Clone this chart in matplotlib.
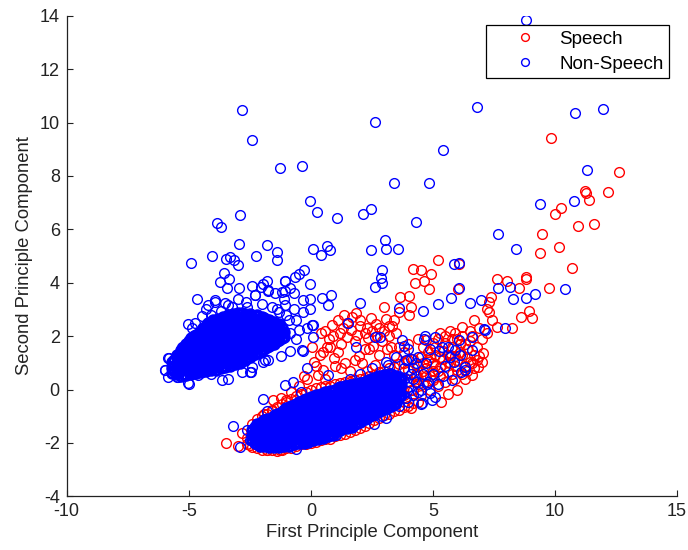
import matplotlib
matplotlib.use("Agg")
import matplotlib.pyplot as plt

# ---------------- data ----------------
# Non-Speech (blue), upper-left dense cluster: (x, [y values at that x])
nonspeech_left_core_cols = [
    (-5.70, [0.62, 0.82, 1.02]),
    (-5.60, [0.70, 0.90, 1.10]),
    (-5.50, [0.58, 0.78, 0.98, 1.18, 1.30]),
    (-5.40, [0.66, 0.86, 1.06, 1.26]),
    (-5.30, [0.52, 0.72, 0.92, 1.12, 1.32, 1.48]),
    (-5.20, [0.60, 0.80, 1.00, 1.20, 1.40, 1.58]),
    (-5.10, [0.55, 0.75, 0.95, 1.15, 1.35, 1.55, 1.70]),
    (-5.00, [0.64, 0.84, 1.04, 1.24, 1.44, 1.64, 1.80]),
    (-4.90, [0.60, 0.80, 1.00, 1.20, 1.40, 1.60, 1.80, 1.92]),
    (-4.80, [0.68, 0.88, 1.08, 1.28, 1.48, 1.68, 1.88, 2.00]),
    (-4.70, [0.62, 0.82, 1.02, 1.22, 1.42, 1.62, 1.82, 2.04]),
    (-4.60, [0.70, 0.90, 1.10, 1.30, 1.50, 1.70, 1.90, 2.12]),
    (-4.50, [0.65, 0.85, 1.05, 1.25, 1.45, 1.65, 1.85, 2.05, 2.20]),
    (-4.40, [0.74, 0.94, 1.14, 1.34, 1.54, 1.74, 1.94, 2.14, 2.30]),
    (-4.30, [0.68, 0.88, 1.08, 1.28, 1.48, 1.68, 1.88, 2.08, 2.28, 2.38]),
    (-4.20, [0.76, 0.96, 1.16, 1.36, 1.56, 1.76, 1.96, 2.16, 2.36, 2.48]),
    (-4.10, [0.72, 0.92, 1.12, 1.32, 1.52, 1.72, 1.92, 2.12, 2.32, 2.52]),
    (-4.00, [0.80, 1.00, 1.20, 1.40, 1.60, 1.80, 2.00, 2.20, 2.40, 2.60]),
    (-3.90, [0.75, 0.95, 1.15, 1.35, 1.55, 1.75, 1.95, 2.15, 2.35, 2.58]),
    (-3.80, [0.84, 1.04, 1.24, 1.44, 1.64, 1.84, 2.04, 2.24, 2.44, 2.66]),
    (-3.70, [0.80, 1.00, 1.20, 1.40, 1.60, 1.80, 2.00, 2.20, 2.40, 2.62]),
    (-3.60, [0.88, 1.08, 1.28, 1.48, 1.68, 1.88, 2.08, 2.28, 2.48, 2.72]),
    (-3.50, [0.85, 1.05, 1.25, 1.45, 1.65, 1.85, 2.05, 2.25, 2.45, 2.68]),
    (-3.40, [0.94, 1.14, 1.34, 1.54, 1.74, 1.94, 2.14, 2.34, 2.54, 2.78]),
    (-3.30, [0.90, 1.10, 1.30, 1.50, 1.70, 1.90, 2.10, 2.30, 2.50, 2.74]),
    (-3.20, [0.98, 1.18, 1.38, 1.58, 1.78, 1.98, 2.18, 2.38, 2.58, 2.82]),
    (-3.10, [0.95, 1.15, 1.35, 1.55, 1.75, 1.95, 2.15, 2.35, 2.55, 2.78]),
    (-3.00, [1.04, 1.24, 1.44, 1.64, 1.84, 2.04, 2.24, 2.44, 2.64, 2.86]),
    (-2.90, [1.00, 1.20, 1.40, 1.60, 1.80, 2.00, 2.20, 2.40, 2.60, 2.82]),
    (-2.80, [1.10, 1.30, 1.50, 1.70, 1.90, 2.10, 2.30, 2.50, 2.70, 2.88]),
    (-2.70, [1.12, 1.32, 1.52, 1.72, 1.92, 2.12, 2.32, 2.52, 2.72, 2.84]),
    (-2.60, [1.20, 1.40, 1.60, 1.80, 2.00, 2.20, 2.40, 2.60, 2.80]),
    (-2.50, [1.22, 1.42, 1.62, 1.82, 2.02, 2.22, 2.42, 2.62, 2.84]),
    (-2.40, [1.30, 1.50, 1.70, 1.90, 2.10, 2.30, 2.50, 2.70]),
    (-2.30, [1.32, 1.52, 1.72, 1.92, 2.12, 2.32, 2.52, 2.76]),
    (-2.20, [1.40, 1.60, 1.80, 2.00, 2.20, 2.40, 2.60, 2.78]),
    (-2.10, [1.42, 1.62, 1.82, 2.02, 2.22, 2.42, 2.64]),
    (-2.00, [1.50, 1.70, 1.90, 2.10, 2.30, 2.50, 2.70]),
    (-1.90, [1.52, 1.72, 1.92, 2.12, 2.32, 2.52, 2.68]),
    (-1.80, [1.60, 1.80, 2.00, 2.20, 2.40, 2.60]),
    (-1.70, [1.62, 1.82, 2.02, 2.22, 2.42, 2.62]),
    (-1.60, [1.70, 1.90, 2.10, 2.30, 2.50]),
    (-1.50, [1.72, 1.92, 2.12, 2.32, 2.52]),
    (-1.40, [1.80, 2.00, 2.20, 2.40]),
    (-1.30, [1.84, 2.04, 2.24, 2.44]),
    (-1.20, [1.92, 2.12, 2.32]),
    (-1.10, [1.96, 2.16]),
]

# Non-Speech, lower dense band: (x, [y values at that x])
nonspeech_low_core_cols = [
    (-2.40, [-1.90, -1.70, -1.50]),
    (-2.30, [-2.00, -1.80, -1.60, -1.40]),
    (-2.20, [-2.05, -1.85, -1.65, -1.45, -1.30]),
    (-2.10, [-2.10, -1.90, -1.70, -1.50, -1.30]),
    (-2.00, [-2.00, -1.80, -1.60, -1.40, -1.20]),
    (-1.90, [-2.10, -1.90, -1.70, -1.50, -1.30, -1.15]),
    (-1.80, [-2.05, -1.85, -1.65, -1.45, -1.25, -1.10]),
    (-1.70, [-2.15, -1.95, -1.75, -1.55, -1.35, -1.15]),
    (-1.60, [-2.05, -1.85, -1.65, -1.45, -1.25, -1.05]),
    (-1.50, [-2.15, -1.95, -1.75, -1.55, -1.35, -1.15, -0.98]),
    (-1.40, [-2.05, -1.85, -1.65, -1.45, -1.25, -1.05, -0.90]),
    (-1.30, [-2.15, -1.95, -1.75, -1.55, -1.35, -1.15, -0.95]),
    (-1.20, [-2.05, -1.85, -1.65, -1.45, -1.25, -1.05, -0.85]),
    (-1.10, [-2.10, -1.90, -1.70, -1.50, -1.30, -1.10, -0.90, -0.78]),
    (-1.00, [-2.00, -1.80, -1.60, -1.40, -1.20, -1.00, -0.80, -0.70]),
    (-0.90, [-2.10, -1.90, -1.70, -1.50, -1.30, -1.10, -0.90, -0.70]),
    (-0.80, [-2.00, -1.80, -1.60, -1.40, -1.20, -1.00, -0.80, -0.62]),
    (-0.70, [-2.05, -1.85, -1.65, -1.45, -1.25, -1.05, -0.85, -0.65]),
    (-0.60, [-1.95, -1.75, -1.55, -1.35, -1.15, -0.95, -0.75, -0.55]),
    (-0.50, [-2.00, -1.80, -1.60, -1.40, -1.20, -1.00, -0.80, -0.60, -0.48]),
    (-0.40, [-1.90, -1.70, -1.50, -1.30, -1.10, -0.90, -0.70, -0.50]),
    (-0.30, [-2.00, -1.80, -1.60, -1.40, -1.20, -1.00, -0.80, -0.60, -0.40]),
    (-0.20, [-1.90, -1.70, -1.50, -1.30, -1.10, -0.90, -0.70, -0.50, -0.35]),
    (-0.10, [-1.95, -1.75, -1.55, -1.35, -1.15, -0.95, -0.75, -0.55, -0.35]),
    (0.00, [-1.85, -1.65, -1.45, -1.25, -1.05, -0.85, -0.65, -0.45, -0.28]),
    (0.10, [-1.90, -1.70, -1.50, -1.30, -1.10, -0.90, -0.70, -0.50, -0.30]),
    (0.20, [-1.80, -1.60, -1.40, -1.20, -1.00, -0.80, -0.60, -0.40, -0.22]),
    (0.30, [-1.85, -1.65, -1.45, -1.25, -1.05, -0.85, -0.65, -0.45, -0.25]),
    (0.40, [-1.75, -1.55, -1.35, -1.15, -0.95, -0.75, -0.55, -0.35, -0.16]),
    (0.50, [-1.80, -1.60, -1.40, -1.20, -1.00, -0.80, -0.60, -0.40, -0.20]),
    (0.60, [-1.70, -1.50, -1.30, -1.10, -0.90, -0.70, -0.50, -0.30, -0.10]),
    (0.70, [-1.75, -1.55, -1.35, -1.15, -0.95, -0.75, -0.55, -0.35, -0.15]),
    (0.80, [-1.65, -1.45, -1.25, -1.05, -0.85, -0.65, -0.45, -0.25, -0.05]),
    (0.90, [-1.70, -1.50, -1.30, -1.10, -0.90, -0.70, -0.50, -0.30, -0.10]),
    (1.00, [-1.60, -1.40, -1.20, -1.00, -0.80, -0.60, -0.40, -0.20, 0.00]),
    (1.10, [-1.55, -1.35, -1.15, -0.95, -0.75, -0.55, -0.35, -0.15, 0.05]),
    (1.20, [-1.50, -1.30, -1.10, -0.90, -0.70, -0.50, -0.30, -0.10, 0.08]),
    (1.30, [-1.45, -1.25, -1.05, -0.85, -0.65, -0.45, -0.25, -0.05, 0.10]),
    (1.40, [-1.40, -1.20, -1.00, -0.80, -0.60, -0.40, -0.20, 0.00, 0.12]),
    (1.50, [-1.45, -1.25, -1.05, -0.85, -0.65, -0.45, -0.25, -0.05, 0.14]),
    (1.60, [-1.35, -1.15, -0.95, -0.75, -0.55, -0.35, -0.15, 0.05, 0.16]),
    (1.70, [-1.40, -1.20, -1.00, -0.80, -0.60, -0.40, -0.20, 0.00, 0.18]),
    (1.80, [-1.30, -1.10, -0.90, -0.70, -0.50, -0.30, -0.10, 0.10, 0.20]),
    (1.90, [-1.25, -1.05, -0.85, -0.65, -0.45, -0.25, -0.05, 0.15]),
    (2.00, [-1.20, -1.00, -0.80, -0.60, -0.40, -0.20, 0.00, 0.20, 0.25]),
    (2.10, [-1.15, -0.95, -0.75, -0.55, -0.35, -0.15, 0.05, 0.25]),
    (2.20, [-1.10, -0.90, -0.70, -0.50, -0.30, -0.10, 0.10, 0.30]),
    (2.30, [-1.05, -0.85, -0.65, -0.45, -0.25, -0.05, 0.15, 0.32]),
    (2.40, [-1.00, -0.80, -0.60, -0.40, -0.20, 0.00, 0.20, 0.36]),
    (2.50, [-0.95, -0.75, -0.55, -0.35, -0.15, 0.05, 0.25, 0.40]),
    (2.60, [-0.90, -0.70, -0.50, -0.30, -0.10, 0.10, 0.30, 0.42]),
    (2.70, [-0.85, -0.65, -0.45, -0.25, -0.05, 0.15, 0.35, 0.46]),
    (2.80, [-0.80, -0.60, -0.40, -0.20, 0.00, 0.20, 0.40, 0.50]),
    (2.90, [-0.75, -0.55, -0.35, -0.15, 0.05, 0.25, 0.45]),
    (3.00, [-0.70, -0.50, -0.30, -0.10, 0.10, 0.30, 0.50, 0.56]),
    (3.10, [-0.68, -0.48, -0.28, -0.08, 0.12, 0.32, 0.52]),
    (3.20, [-0.62, -0.42, -0.22, -0.02, 0.18, 0.38, 0.58]),
    (3.30, [-0.60, -0.40, -0.20, 0.00, 0.20, 0.40, 0.60]),
    (3.40, [-0.54, -0.34, -0.14, 0.06, 0.26, 0.46]),
    (3.50, [-0.50, -0.30, -0.10, 0.10, 0.30, 0.50]),
    (3.60, [-0.26, -0.06, 0.14, 0.34]),
    (3.70, [-0.22, 0.18, 0.38]),
]

# Non-Speech: fringe of upper-left cluster
nonspeech_left_fringe = [
    (-3.47,4.89),(-3.31,4.98),(-3.14,4.85),(-2.98,4.67),(-3.56,4.38),(-3.35,4.13),
    (-3.72,4.04),(-3.45,3.79),(-2.93,3.79),(-2.42,3.88),(-2.04,3.85),(-1.81,4.08),
    (-1.06,4.08),(-4.67,3.39),(-4.20,3.17),(-3.92,3.36),(-3.51,3.26),(-3.24,3.11),
    (-2.29,3.54),(-1.74,3.73),(-1.47,3.61),(-1.19,3.67),(-0.85,3.79),(-5.02,2.46),
    (-5.29,1.61),(-5.84,1.17),(-5.97,0.73),(-5.49,0.48),(-5.02,0.26),(-3.65,0.36),
    (-2.49,0.67),(-1.88,1.11),(-0.32,2.92),(0.07,2.43),(-0.14,2.30),(-0.50,2.23),
    (-0.86,2.10),(-0.59,1.91),(-0.86,1.45),(-1.22,1.25),(-1.76,1.12),(-2.44,0.66),
    (-1.04,3.15),(-1.40,3.02),(-0.05,3.02),(-0.32,3.35),(-1.04,3.68),(-0.68,3.61),
    (-1.76,3.68),(-1.94,3.94),(-2.30,3.55),(-2.66,3.29),(-3.38,3.15),(-3.92,3.29),
    (-4.28,3.02),(-4.46,2.76),(-4.73,2.50),(-4.85,2.30),(-5.18,1.58),(-5.27,1.45),
    (-5.81,1.18),(-5.63,1.05),(-5.98,0.72),(-5.86,0.46),(-5.45,0.46),(-5.00,0.22),
    (-4.64,0.53),(-4.10,0.59),(-3.38,0.39),(-2.84,0.66),(-2.39,0.85),(-1.94,1.05),
    (-0.50,4.34),(-0.27,4.47),(-0.63,4.20),(-1.04,4.07),(-0.05,3.97),(0.84,3.55),
    (0.45,3.44),(0.72,3.18),(-0.04,3.39),(0.04,2.43),(-0.32,1.45),(0.07,1.97),
    (-1.30,2.90),(-0.90,2.60),(-0.70,3.00),(-1.10,3.40),(-2.60,3.10),(-3.00,3.40),
    (-1.60,3.10),(-2.00,3.20),(-3.70,2.95),(-4.10,2.80),(-1.00,2.80),(-0.60,2.60),
]

# Non-Speech: scattered outliers
nonspeech_outliers = [
    (8.81,13.86),(-2.80,10.47),(-2.39,9.33),(-1.26,8.28),(-0.36,8.37),(2.61,10.04),
    (6.81,10.60),(5.43,8.97),(10.84,10.35),(11.95,10.51),(11.32,8.24),(3.40,7.73),
    (4.83,7.73),(-0.05,7.07),(0.27,6.66),(1.08,6.44),(2.14,6.58),(2.48,6.75),
    (4.30,6.28),(-2.89,6.54),(-3.85,6.25),(-3.70,6.10),(-2.93,5.45),(-1.80,5.40),
    (-1.40,5.15),(-1.40,4.86),(-2.26,5.01),(-4.04,5.01),(-4.92,4.74),(0.09,5.26),
    (0.66,5.36),(0.79,5.23),(0.41,5.05),(2.48,5.23),(3.02,5.61),(3.09,5.27),
    (3.58,5.27),(9.38,6.94),(10.78,7.07),(7.66,5.83),(8.39,5.27),(5.88,4.69),
    (6.06,4.73),(2.91,4.49),(2.88,4.17),(2.93,3.99),(2.61,3.84),(3.63,3.07),
    (4.58,2.94),(5.19,3.21),(5.75,3.42),(6.06,3.82),(6.54,3.26),(6.96,3.35),
    (7.10,2.26),(7.66,3.81),(8.16,3.84),(8.30,3.38),(8.81,3.42),(9.17,3.57),
    (10.42,3.77),(7.94,2.30),(2.01,3.23),(1.53,2.50),(2.84,1.97),(2.61,1.97),
    (1.87,1.58),(-0.14,0.79),
]

# Non-Speech: fringe of lower band and its mixed right end
nonspeech_low_fringe = [
    (-3.20,-1.35),(-2.89,-2.17),(-1.98,-0.37),(-1.06,0.17),(-0.72,0.30),(-0.37,1.48),
    (0.72,0.55),(1.02,-1.71),(-0.59,-2.21),(-1.04,-2.10),(3.09,-1.05),(3.99,-0.46),
    (4.53,-0.53),(4.98,-0.39),(4.89,-0.13),(5.25,1.45),(4.62,1.91),(5.07,1.97),
    (3.72,1.84),(3.81,1.64),(6.06,1.84),(6.60,1.97),(6.15,0.66),(6.33,0.85),
    (5.88,1.05),(3.09,1.05),(4.40,1.20),(4.70,1.00),(5.00,0.60),(5.50,0.90),
    (5.20,0.20),(4.20,0.80),(3.50,1.20),(2.50,0.80),(2.00,0.60),(1.60,0.40),
    (4.00,1.50),(5.60,1.60),(6.10,1.30),(4.20,-0.20),(3.60,-0.60),(2.60,-1.30),
    (4.68,1.99),(3.18,0.92),(3.86,0.43),(5.36,1.60),(5.91,1.49),(6.59,1.49),
    (7.14,2.23),(5.09,-0.27),(3.32,-0.51),(2.90,-1.01),(5.77,0.36),(6.32,0.74),
    (4.54,-0.51),(-2.50,-1.90),(-2.60,-1.50),(-1.80,-0.80),(-0.40,-0.10),
    (4.80,0.30),(5.40,0.50),(4.90,1.50),(4.30,1.00),(3.90,1.10),(5.70,1.20),
    (3.90,-0.30),(4.00,0.10),(4.10,0.60),(4.30,0.30),(4.50,0.00),(3.80,0.80),
    (4.60,0.60),(4.40,-0.10),(4.20,0.40),(3.95,-0.05),(4.75,0.20),(4.10,1.15),
]

# Speech (red)
speech_outliers = [
    (9.83,9.42),(12.62,8.15),(11.22,7.42),(11.27,7.38),(12.19,7.41),(11.38,7.10),
    (10.26,6.81),(10.01,6.57),(10.95,6.14),(11.61,6.19),(9.45,5.83),(10.15,5.34),
    (9.40,5.10),(10.69,4.56),(9.74,3.81),(8.81,4.20),(8.81,4.14),(7.62,4.14),
    (8.03,4.07),(8.52,3.81),(7.40,3.48),(7.31,3.29),(7.23,3.00),(7.44,2.59),
    (7.64,2.34),(8.23,2.31),(8.61,2.72),(8.95,2.93),(9.06,2.67),(5.21,4.86),
    (6.06,4.70),(4.17,4.51),(4.53,4.47),(4.28,3.98),(4.65,4.05),(4.94,4.34),
    (4.83,3.78),(6.02,3.78),(3.67,3.48),(4.03,3.51),(3.63,2.89),(4.12,3.11),
    (4.03,2.79),(1.37,2.80),(1.87,2.85),(0.88,2.43),(1.33,2.30),(1.65,2.23),
    (2.01,2.37),(2.30,2.30),(2.48,2.67),(2.68,2.47),(3.06,2.65),(3.20,2.37),
    (3.32,2.39),(2.80,2.30),(1.47,1.97),(1.89,2.04),(2.34,1.94),(1.24,1.71),
    (0.75,1.91),(0.66,1.58),(0.36,1.31),(0.04,1.58),(0.13,1.05),(0.93,1.18),
    (1.98,1.25),(2.55,1.64),(2.64,0.92),(0.49,0.72),(1.24,0.81),(5.34,-0.46),
    (-3.47,-2.00),(-2.84,-1.64),(-2.48,-2.08),(-1.80,-2.26),(-1.28,-2.26),
    (-1.53,-0.39),(-1.22,-0.33),(-1.58,-0.79),(-0.86,-0.92),(-0.14,0.39),
    (-0.50,0.13),(0.31,0.55),(2.20,1.50),(2.90,1.80),(3.30,1.60),(1.10,1.40),
    (0.40,2.10),(3.50,2.10),(3.00,3.10),(2.10,1.00),(1.60,0.70),(6.70,2.60),(7.30,2.90),
    (0.60,2.20),(0.90,2.00),(1.10,2.60),(1.50,2.50),(1.70,2.70),(2.00,2.60),
    (2.20,2.10),(2.50,2.20),(2.70,2.00),(3.00,2.20),(3.20,2.00),(3.40,2.60),
    (1.20,2.10),(1.80,1.80),(2.40,1.50),(0.50,1.40),(0.80,1.60),(1.00,0.90),
    (1.40,1.00),(1.80,1.10),(2.30,0.70),(2.80,1.30),(3.10,1.50),(3.60,1.60),
    (0.20,0.90),(0.60,0.40),(-0.30,0.50),(-0.80,-0.10),(-1.00,-0.40),(-1.90,-0.90),
    (-2.20,-1.50),(-2.60,-1.80),(-3.00,-2.10),
]

speech_low_band = [
    (-2.60,-2.05),(-2.40,-2.15),(-2.20,-2.20),(-2.00,-2.25),(-1.80,-2.28),(-1.60,-2.25),
    (-1.40,-2.30),(-1.20,-2.25),(-1.00,-2.20),(-0.80,-2.20),(-0.60,-2.10),(-0.40,-2.05),
    (-0.20,-2.05),(0.00,-2.00),(0.20,-1.95),(0.40,-1.90),(0.60,-1.85),(0.80,-1.85),
    (1.00,-1.75),(1.20,-1.70),(1.40,-1.65),(1.60,-1.60),(1.80,-1.50),(2.00,-1.45),
    (2.20,-1.35),(2.40,-1.25),(2.60,-1.15),(2.80,-1.05),(3.00,-0.95),(3.20,-0.90),
    (3.40,-0.80),(3.60,-0.75),(3.80,-0.65),(4.00,-0.60),(4.20,-0.50),(4.40,-0.45),
    (-2.40,-1.30),(-2.20,-1.10),(-2.00,-1.00),(-1.80,-0.90),(-1.60,-0.75),(-1.40,-0.65),
    (-1.20,-0.55),(-1.00,-0.45),(-0.80,-0.35),(-0.60,-0.25),(-0.40,-0.15),(-0.20,-0.10),
    (0.00,0.00),(0.20,0.05),(0.40,0.10),(0.60,0.15),(0.80,0.15),(1.00,0.20),
    (1.20,0.25),(1.40,0.30),(1.60,0.30),(1.80,0.35),(2.00,0.40),(2.20,0.45),
    (2.40,0.50),(2.60,0.55),(2.80,0.65),(3.00,0.70),(3.20,0.80),(3.40,0.85),
    (3.60,0.95),(3.80,1.00),(4.00,1.10),(4.20,1.15),
    (-2.00,-1.60),(-1.50,-1.45),(-1.00,-1.35),(-0.50,-1.20),(0.00,-1.00),(0.50,-0.85),
    (1.00,-0.70),(1.50,-0.55),(2.00,-0.40),(2.50,-0.25),(3.00,-0.05),(3.50,0.10),(4.00,0.30),
    (3.80,-0.20),(4.10,0.00),(4.30,0.50),(4.00,0.75),(3.75,0.45),(4.40,0.20),
]

speech_right_blob = [
    (4.20,0.00),(4.30,0.30),(4.30,0.60),(4.40,0.90),(4.50,1.20),(4.50,-0.20),(4.60,0.20),
    (4.70,0.50),(4.70,0.80),(4.80,1.10),(4.80,1.40),(4.90,0.00),(5.00,0.35),(5.00,0.70),
    (5.00,1.00),(5.10,1.30),(5.10,1.60),(5.20,1.90),(5.20,0.15),(5.30,0.50),(5.30,0.85),
    (5.40,1.15),(5.40,1.45),(5.50,1.75),(5.50,2.00),(5.50,0.30),(5.60,0.65),(5.70,1.00),
    (5.70,1.30),(5.80,1.60),(5.80,1.90),(5.90,2.10),(5.90,0.40),(6.00,0.75),(6.00,1.10),
    (6.10,1.40),(6.10,1.70),(6.20,2.00),(6.20,0.60),(6.30,0.90),(6.40,1.20),(6.40,1.50),
    (6.50,1.80),(6.50,2.20),(6.60,1.00),(6.70,1.30),(6.80,1.10),(6.80,1.60),(6.90,1.25),
    (7.00,1.90),(6.30,0.40),(6.00,0.00),(5.60,-0.15),(6.60,0.55),(6.90,2.30),(7.20,2.10),
    (4.00,1.70),(4.40,1.90),(3.80,1.40),(4.60,1.60),(3.40,1.30),(3.70,0.20),(4.10,-0.70),
    (4.40,0.40),(4.60,0.70),(4.90,0.50),(5.10,0.90),(5.30,1.20),(5.60,1.30),(5.60,1.05),
    (5.90,0.90),(6.20,1.30),(6.00,1.90),(5.70,2.20),(6.30,1.70),(6.60,2.00),(6.70,0.80),
    (6.40,0.70),(5.80,0.60),(5.20,0.70),(4.90,1.20),(4.60,1.00),(5.90,1.25),(6.50,1.05),
    (7.05,1.35),(7.00,1.05),(6.85,0.85),(5.00,1.75),(5.30,2.10),(4.70,1.85),(6.20,2.35),
]

legend_labels = ["Speech", "Non-Speech"]
x_label = "First Principle Component"
y_label = "Second Principle Component"
x_ticks = [-10, -5, 0, 5, 10, 15]
y_ticks = [-4, -2, 0, 2, 4, 6, 8, 10, 12, 14]

# ---------------- assemble ----------------
def expand(cols):
    return [(x, y) for x, ys in cols for y in ys]

def xs(pts):
    return [p[0] for p in pts]

def ys(pts):
    return [p[1] for p in pts]

speech = speech_low_band + speech_right_blob + speech_outliers
nonspeech_core = expand(nonspeech_left_core_cols) + expand(nonspeech_low_core_cols)
nonspeech_sparse = nonspeech_left_fringe + nonspeech_outliers + nonspeech_low_fringe

# ---------------- drawing ----------------
plt.rcParams['font.family'] = ['Liberation Sans', 'DejaVu Sans']
plt.rcParams['axes.unicode_minus'] = False
fig = plt.figure(figsize=(6.88, 5.5), dpi=100)
ax = fig.add_axes([0.097, 0.0976, 0.887, 0.8737])

RED = (1, 0, 0)
BLUE = (0, 0, 1)
ms = 7.0
mew = 1.0
ax.plot(xs(speech), ys(speech), 'o', mfc='none', mec=RED, ms=ms, mew=mew,
        label=legend_labels[0], linestyle='none')
# dense core of the Non-Speech class (thousands of overlapping rings in the original)
ax.plot(xs(nonspeech_core), ys(nonspeech_core), 'o', mfc='none', mec=BLUE, ms=ms,
        mew=2.0, linestyle='none')
ax.plot(xs(nonspeech_sparse), ys(nonspeech_sparse), 'o', mfc='none', mec=BLUE, ms=ms,
        mew=mew, label=legend_labels[1], linestyle='none')

ax.set_xlim(-10, 15)
ax.set_ylim(-4, 14)
ax.set_xticks(x_ticks)
ax.set_yticks(y_ticks)
for s in ['top', 'right']:
    ax.spines[s].set_visible(False)
for s in ['left', 'bottom']:
    ax.spines[s].set_linewidth(0.9)
    ax.spines[s].set_color('#222222')
ax.tick_params(direction='in', length=4, labelsize=13, colors='#222222')
ax.tick_params(axis='x', pad=5)
ax.tick_params(axis='y', pad=5)
ax.set_xlabel(x_label, fontsize=13.3, labelpad=3, color='#222222')
ax.set_ylabel(y_label, fontsize=13.3, labelpad=5, color='#222222')

leg = ax.legend(loc='upper right', bbox_to_anchor=(0.987, 0.981), borderaxespad=0,
                fancybox=False, edgecolor='black', framealpha=1, fontsize=13.5,
                markerscale=0.8, handlelength=3.47, handletextpad=0.1,
                borderpad=0.3, labelspacing=0.42)
leg.get_frame().set_linewidth(0.9)

fig.savefig("out.png", dpi=100)
